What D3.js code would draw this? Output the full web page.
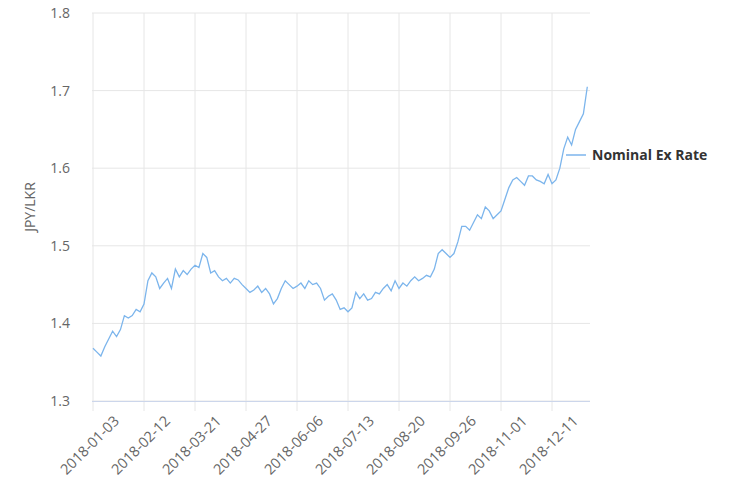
<!DOCTYPE html>
<html><head><meta charset="utf-8">
<script src="https://cdn.jsdelivr.net/npm/d3@7"></script>
<style>body{margin:0;background:#fff}text{font-family:"Open Sans",sans-serif}</style>
</head><body><svg id="c" width="750" height="500"></svg>
<script>
const tickLabels=["2018-01-03","2018-02-12","2018-03-21","2018-04-27","2018-06-06","2018-07-13","2018-08-20","2018-09-26","2018-11-01","2018-12-11"];
const values=[1.368,1.363,1.358,1.37,1.38,1.39,1.383,1.392,1.41,1.407,1.41,1.418,1.415,
1.425,1.455,1.465,1.46,1.445,1.452,1.458,1.445,1.47,1.46,1.468,1.463,1.47,
1.475,1.472,1.49,1.485,1.465,1.468,1.46,1.455,1.458,1.452,1.458,1.456,1.45,
1.445,1.44,1.443,1.448,1.44,1.445,1.438,1.425,1.432,1.445,1.455,1.45,1.445,
1.448,1.452,1.445,1.455,1.45,1.452,1.445,1.43,1.435,1.438,1.43,1.418,1.42,
1.415,1.42,1.44,1.432,1.438,1.43,1.432,1.44,1.438,1.445,1.45,1.442,1.455,
1.445,1.452,1.448,1.455,1.46,1.455,1.458,1.462,1.46,1.47,1.49,1.495,1.49,
1.485,1.49,1.505,1.525,1.525,1.52,1.53,1.54,1.535,1.55,1.545,1.535,1.54,
1.545,1.56,1.575,1.585,1.588,1.583,1.578,1.59,1.59,1.585,1.583,1.58,1.592,
1.58,1.585,1.6,1.625,1.64,1.63,1.65,1.66,1.67,1.705];
const yTicks=[1.3,1.4,1.5,1.6,1.7,1.8];
const step=13;
const svg=d3.select("#c");
const x=d3.scaleLinear().domain([0,step*(tickLabels.length-1)]).range([93,552]);
const y=d3.scaleLinear().domain([1.3,1.8]).range([401,13]);
const g=svg.append("g");
yTicks.forEach(t=>{
  g.append("line").attr("x1",92).attr("x2",590).attr("y1",y(t)).attr("y2",y(t)).attr("stroke","#e6e6e6");
  g.append("text").attr("x",70).attr("y",y(t)+5).attr("text-anchor","end").attr("font-size",14).attr("fill","#666").text(t.toFixed(1));
});
tickLabels.forEach((l,i)=>{
  const xx=x(i*step);
  g.append("line").attr("x1",xx).attr("x2",xx).attr("y1",13).attr("y2",411).attr("stroke","#e6e6e6");
  g.append("text").attr("transform",`translate(${xx+27},${422}) rotate(-45)`).attr("text-anchor","end").attr("font-size",14.5).attr("fill","#666").text(l);
});
g.append("line").attr("x1",92).attr("x2",590).attr("y1",401.5).attr("y2",401.5).attr("stroke","#ccd6eb");
g.append("text").attr("transform","translate(35,207) rotate(-90)").attr("text-anchor","middle").attr("font-size",14).attr("fill","#666").text("JPY/LKR");
g.append("path").datum(values).attr("fill","none").attr("stroke","#7cb5ec").attr("stroke-width",1.3)
 .attr("d",d3.line().x((d,i)=>x(i)).y(d=>y(d)));
const ly=155;
g.append("line").attr("x1",566).attr("x2",586).attr("y1",ly).attr("y2",ly).attr("stroke","#7cb5ec").attr("stroke-width",1.5);
g.append("text").attr("x",592).attr("y",ly+5).attr("font-size",14).attr("font-weight","bold").attr("fill","#333").text("Nominal Ex Rate");
</script></body></html>
